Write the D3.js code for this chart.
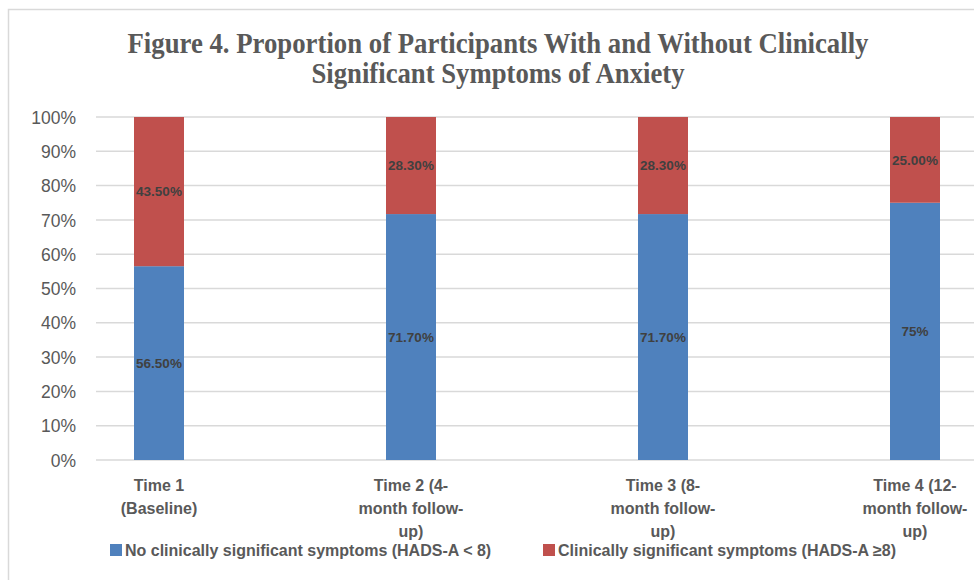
<!DOCTYPE html>
<html><head><meta charset="utf-8">
<script src="https://cdn.jsdelivr.net/npm/d3@7"></script>
<style>body{margin:0;background:#fff}svg{display:block}</style>
</head><body>
<svg id="c" width="974" height="580"></svg>
<script>
const categories = [
  ["Time 1", "(Baseline)"],
  ["Time 2 (4-", "month follow-", "up)"],
  ["Time 3 (8-", "month follow-", "up)"],
  ["Time 4 (12-", "month follow-", "up)"]
];
const noSymptoms = [56.5, 71.7, 71.7, 75];
const withSymptoms = [43.5, 28.3, 28.3, 25];
const noLabels = ["56.50%", "71.70%", "71.70%", "75%"];
const withLabels = ["43.50%", "28.30%", "28.30%", "25.00%"];
const seriesNames = ["No clinically significant symptoms (HADS-A < 8)", "Clinically significant symptoms (HADS-A \u22658)"];
const colors = ["#4F81BD", "#C0504D"];
const yTicks = [0,10,20,30,40,50,60,70,80,90,100];
const titleLines = ["Figure 4. Proportion of Participants With and Without Clinically", "Significant Symptoms of Anxiety"];

const svg = d3.select("#c");
// frame
svg.append("rect").attr("x",8.5).attr("y",9.5).attr("width",1000).attr("height",600)
  .attr("fill","none").attr("stroke","#D9D9D9").attr("stroke-width",1.5);

// title
const tw = [741, 373];
titleLines.forEach((t,i)=>{
  svg.append("text").attr("x",498).attr("y",53+i*30).attr("text-anchor","middle")
    .attr("font-family","Liberation Serif").attr("font-weight","bold").attr("font-size",29)
    .attr("fill","#595959").attr("textLength",tw[i]).attr("lengthAdjust","spacingAndGlyphs").text(t);
});

const y = d3.scaleLinear().domain([0,100]).range([460,117]);
const idx = categories.map((d,i)=>i);
const x = d3.scalePoint().domain(idx).range([159,915]);
const bw = 50;

// gridlines
svg.append("g").selectAll("line").data(yTicks).join("line")
  .attr("x1",96).attr("x2",974).attr("y1",d=>y(d)).attr("y2",d=>y(d))
  .attr("stroke","#D9D9D9").attr("stroke-width",1.5);

// y axis labels
const yAxis = d3.axisLeft(y).tickValues(yTicks).tickFormat(d=>d+"%").tickSize(0).tickPadding(0);
const ya = svg.append("g").attr("transform","translate(76,0)").call(yAxis);
ya.select(".domain").remove();
ya.selectAll("text").attr("font-family","Liberation Sans").attr("font-size",17.5).attr("fill","#595959").attr("dy","0.35em");

// bars
const stacks = [noSymptoms, withSymptoms];
stacks.forEach((s,k)=>{
  const base = k===0 ? idx.map(()=>0) : noSymptoms;
  svg.append("g").selectAll("rect").data(idx).join("rect")
    .attr("x",i=>x(i)-bw/2).attr("width",bw)
    .attr("y",i=>y(base[i]+s[i])).attr("height",i=>y(base[i])-y(base[i]+s[i]))
    .attr("fill",colors[k]);
});
// data labels
const labs = [noLabels, withLabels];
stacks.forEach((s,k)=>{
  const base = k===0 ? idx.map(()=>0) : noSymptoms;
  svg.append("g").selectAll("text").data(idx).join("text")
    .attr("x",i=>x(i)).attr("y",i=>y(base[i]+s[i]/2)).attr("dy","0.35em")
    .attr("text-anchor","middle").attr("font-family","Liberation Sans").attr("font-weight","bold")
    .attr("font-size",13.5).attr("fill","#404040").text(i=>labs[k][i]);
});

// x labels
const xl = svg.append("g");
idx.forEach(i=>{
  const t = xl.append("text").attr("text-anchor","middle").attr("font-family","Liberation Sans")
    .attr("font-weight","bold").attr("font-size",16).attr("fill","#595959");
  categories[i].forEach((line,j)=>{
    t.append("tspan").attr("x",x(i)).attr("y",491+j*23).text(line);
  });
});

// legend
const lx = [110, 543];
seriesNames.forEach((n,k)=>{
  svg.append("rect").attr("x",lx[k]).attr("y",544).attr("width",12).attr("height",12).attr("fill",colors[k]);
  svg.append("text").attr("x",lx[k]+15).attr("y",550).attr("dy","0.35em")
    .attr("font-family","Liberation Sans").attr("font-weight","bold").attr("font-size",16)
    .attr("fill","#595959").text(n);
});
</script>
</body></html>
